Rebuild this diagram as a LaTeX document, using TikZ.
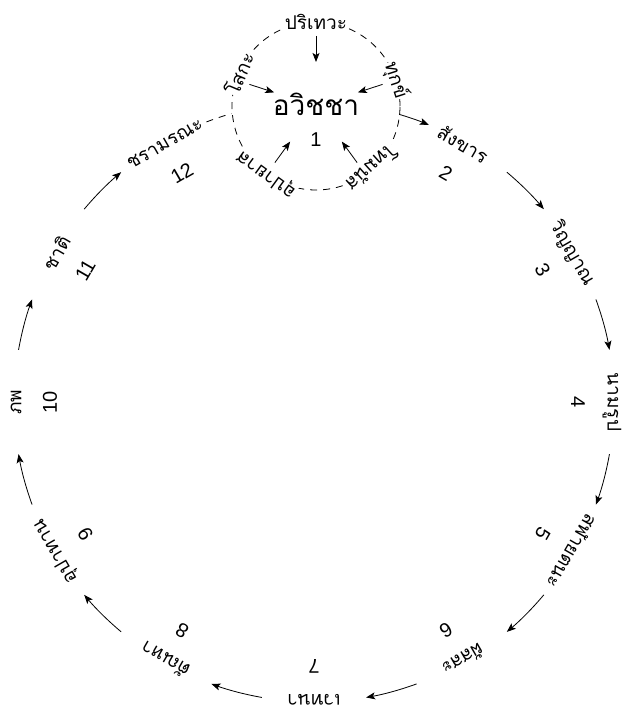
\documentclass[tikz,border=0pt]{standalone}
\usepackage{fontspec}
\newfontfamily\thaifont[Script=Thai]{Loma}
\newfontfamily\numfont{Liberation Sans}
\usetikzlibrary{arrows.meta}
\begin{document}
\begin{tikzpicture}[x=1pt,y=1pt,
  word/.style={font=\thaifont\fontsize{19}{19}\selectfont, inner sep=0.5pt},
  bigword/.style={font=\thaifont\fontsize{28}{28}\selectfont, inner sep=1pt},
  numlabel/.style={font=\numfont\fontsize{20}{20}\selectfont, inner sep=0pt},
  arr/.style={line width=0.8pt, -{Stealth[length=9pt,width=7pt,inset=2pt]}},
  dashline/.style={line width=0.8pt, dash pattern=on 7pt off 6pt},
]
\useasboundingbox (0,0) rectangle (632,-719);
\coordinate (C) at (314,-402);
\coordinate (S) at (316,-106);

% small dashed circle
\draw[dashline] (S) circle[radius=84];

% centre item
\node[bigword] (w1) at (316,-104) {อวิชชา};
\node[numlabel] (n1) at (316,-140) {1};

% the other eleven items
\foreach \k/\w in {2/สังขาร,3/วิญญาณ,4/นามรูป,5/สฬายตนะ,6/ผัสสะ,7/เวทนา,8/ตัณหา,9/อุปาทาน,10/ภพ,11/ชาติ,12/ชรามรณะ} {
  \pgfmathsetmacro\ang{30*(\k-1)}
  \node[word, rotate=-\ang] (w\k) at ([shift={(90-\ang:298)}]C) {\w};
  \node[numlabel, rotate=-\ang] (n\k) at ([shift={(90-\ang:264)}]C) {\k};
}

% arrows along the big circle
\foreach \k in {2,...,11} {
  \pgfmathsetmacro\a{90-30*(\k-1)-10}
  \pgfmathsetmacro\b{90-30*(\k-1)-20}
  \draw[arr] ([shift={(\a:300)}]C) coordinate (s\k) arc[start angle=\a, end angle=\b, radius=300];
}
\draw[arr] ([shift={(73.5:300)}]C) coordinate (s1) arc[start angle=73.5, end angle=67.5, radius=300];
\draw[dashline] ([shift={(-249:300)}]C) coordinate (s12) arc[start angle=-249, end angle=-254, radius=300];

% the five words on the small circle
\foreach \ang/\t/\w/\nm in {0/0/ปริเทวะ/p, 72/72/ทุกข์/t, 144/138/โทมนัส/m, 216/216/อุปายาส/u, 288/293/โสกะ/s} {
  \node[word, fill=white, rotate=-\t] (\nm) at ([shift={(90-\t:84)}]S) {\w};
  \draw[arr] ([shift={(90-\ang:70)}]S) coordinate (\nm a) -- ([shift={(90-\ang:44)}]S) coordinate (\nm b);
}
\end{tikzpicture}
\end{document}
